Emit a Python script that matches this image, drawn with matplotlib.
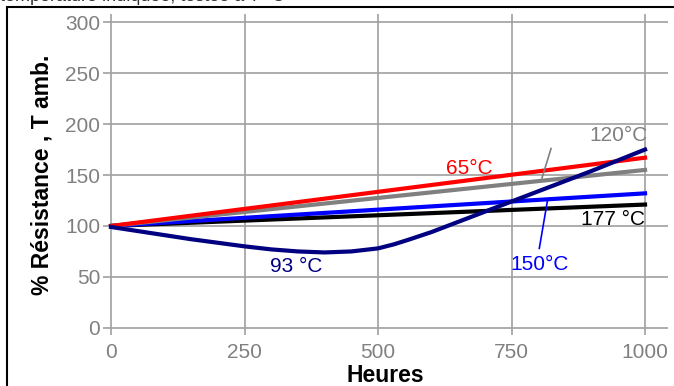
import matplotlib.pyplot as plt
from matplotlib.patches import Rectangle

plt.rcParams['font.family'] = ['Liberation Sans', 'DejaVu Sans']

# heures / % resistance
x_lin = [0, 1000]
r65 = [100, 167]
r120 = [100, 155]
r150 = [100, 132]
r177 = [100, 121]

h93 = [0, 50, 100, 150, 200, 250, 300, 350, 400, 450, 500, 530, 560, 600, 700, 800, 900, 1000]
r93 = [99, 95, 91, 87, 83.5, 80, 77, 75, 74, 75, 78, 82, 87, 94, 114, 134, 154, 175]

xticks = [0, 250, 500, 750, 1000]
yticks = [0, 50, 100, 150, 200, 250, 300]

fig = plt.figure(figsize=(6.74, 3.86), dpi=100)
ax = fig.add_axes([103 / 674, 1 - 335 / 386, 565 / 674, 321 / 386])

ax.plot(x_lin, r177, color='black', lw=3)
ax.plot(x_lin, r150, color='#0000ff', lw=3)
ax.plot(x_lin, r120, color='#808080', lw=3)
ax.plot(x_lin, r65, color='#ff0000', lw=3)
ax.plot(h93, r93, color='#000080', lw=3)

ax.set_xlim(-15, 1043)
ax.set_ylim(-7, 308)
ax.set_xticks(xticks)
ax.set_yticks(yticks)
ax.grid(True, color='#a0a0a0', lw=1.2)
ax.set_axisbelow(True)
for s in ax.spines.values():
    s.set_visible(False)
ax.tick_params(length=0, labelsize=15, colors='#808080', pad=2)
ax.tick_params(axis='x', pad=6)

ax.set_xlabel('Heures', fontsize=16.5, fontweight='bold', labelpad=1)
ax.set_ylabel('% Résistance , T amb.', fontsize=16.5, fontweight='bold', labelpad=8)

ax.text(671, 156, '65°C', color='#ff0000', fontsize=15, ha='center', va='center')
ax.text(950, 189, '120°C', color='#808080', fontsize=15, ha='center', va='center')
ax.plot([824, 807], [176, 147], color='#808080', lw=1.2)
ax.text(803, 62, '150°C', color='#0000ff', fontsize=15, ha='center', va='center')
ax.plot([802, 817], [78, 124], color='#0000ff', lw=1.2)
ax.text(1000, 106, '177 °C', color='black', fontsize=15, ha='right', va='center')
ax.text(346, 60, '93 °C', color='#000080', fontsize=15, ha='center', va='center')

fig.patches.append(Rectangle((7 / 674, -0.1), 1.1, 1.1 - 8 / 386 + 0.002,
                             transform=fig.transFigure, fill=False,
                             edgecolor='black', lw=1.5))
# legende du haut, coupee dans l'original
fig.text(0, 1 - 1 / 386, 'température indiquée, testée à T °C', fontsize=13,
         color='#333333', va='baseline')

fig.savefig('out.png', dpi=100)
